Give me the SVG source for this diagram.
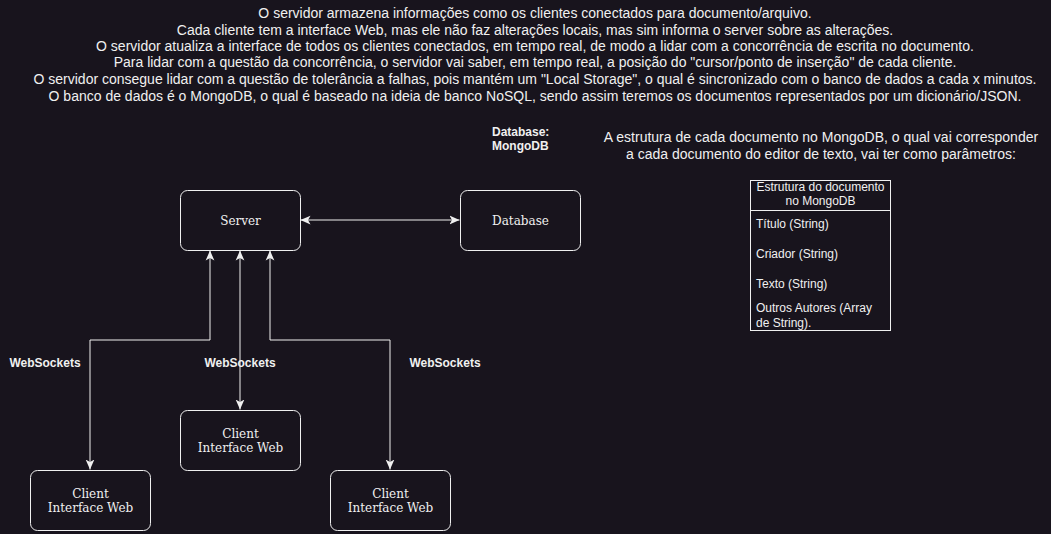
<svg xmlns="http://www.w3.org/2000/svg" width="1051" height="534" viewBox="0 0 1051 534">
<style>
.bg{fill:#18141d}
.node{fill:#18141d;stroke:#f0f0f0;stroke-width:1}
.nt{font-family:"DejaVu Serif",serif;font-size:12px;fill:#f0f0f0;text-anchor:middle}
.txt{font-family:"Liberation Sans",Arial,sans-serif;font-size:14px;fill:#f0f0f0;text-anchor:middle}
.lbl{font-family:"Liberation Sans",Arial,sans-serif;font-size:12px;font-weight:bold;fill:#f0f0f0}
.tb{font-family:"Liberation Sans",Arial,sans-serif;font-size:12px;fill:#f0f0f0}
.edge{fill:none;stroke:#f0f0f0;stroke-width:1;marker-start:url(#arr);marker-end:url(#arr)}
</style>
<defs>
<marker id="arr" markerUnits="userSpaceOnUse" markerWidth="10" markerHeight="10" viewBox="0 0 8 7" refX="8" refY="3.5" orient="auto-start-reverse">
<path d="M0,0 L8,3.5 L0,7 L2,3.5 z" fill="#f0f0f0"/>
</marker>
</defs>
<rect class="bg" x="0" y="0" width="1051" height="534"/>

<g id="description">
<text class="txt" x="535" y="18">O servidor armazena informações como os clientes conectados para documento/arquivo.</text>
<text class="txt" x="535" y="35">Cada cliente tem a interface Web, mas ele não faz alterações locais, mas sim informa o server sobre as alterações.</text>
<text class="txt" x="535" y="51">O servidor atualiza a interface de todos os clientes conectados, em tempo real, de modo a lidar com a concorrência de escrita no documento.</text>
<text class="txt" x="535" y="67">Para lidar com a questão da concorrência, o servidor vai saber, em tempo real, a posição do "cursor/ponto de inserção" de cada cliente.</text>
<text class="txt" x="535" y="84">O servidor consegue lidar com a questão de tolerância a falhas, pois mantém um "Local Storage", o qual é sincronizado com o banco de dados a cada x minutos.</text>
<text class="txt" x="535" y="101">O banco de dados é o MongoDB, o qual é baseado na ideia de banco NoSQL, sendo assim teremos os documentos representados por um dicionário/JSON.</text>
</g>

<g id="db-label">
<text class="lbl" x="492" y="136">Database:</text>
<text class="lbl" x="492" y="150">MongoDB</text>
</g>

<g id="structure-text">
<text class="txt" x="821" y="142">A estrutura de cada documento no MongoDB, o qual vai corresponder</text>
<text class="txt" x="821" y="159">a cada documento do editor de texto, vai ter como parâmetros:</text>
</g>

<g id="connectors">
<path class="edge" d="M300.5,220 L459.5,220"/>
<path class="edge" d="M210,250.5 L210,340 L90,340 L90,469.5"/>
<path class="edge" d="M240,250.5 L240,409.5"/>
<path class="edge" d="M270,250.5 L270,340 L390,340 L390,469.5"/>
<text class="lbl" x="45" y="367" text-anchor="middle">WebSockets</text>
<text class="lbl" x="240" y="367" text-anchor="middle">WebSockets</text>
<text class="lbl" x="445" y="367" text-anchor="middle">WebSockets</text>
</g>

<g id="server">
<rect class="node" x="180.5" y="190.5" width="120" height="60" rx="7"/>
<text class="nt" x="240.5" y="224.5">Server</text>
</g>
<g id="database">
<rect class="node" x="460.5" y="190.5" width="120" height="60" rx="7"/>
<text class="nt" x="520.5" y="224.5">Database</text>
</g>
<g id="client-left">
<rect class="node" x="30.5" y="470.5" width="120" height="60" rx="7"/>
<text class="nt" x="90.5" y="497.5">Client</text>
<text class="nt" x="90.5" y="511.5">Interface Web</text>
</g>
<g id="client-middle">
<rect class="node" x="180.5" y="410.5" width="120" height="60" rx="7"/>
<text class="nt" x="240.5" y="437.5">Client</text>
<text class="nt" x="240.5" y="451.5">Interface Web</text>
</g>
<g id="client-right">
<rect class="node" x="330.5" y="470.5" width="120" height="60" rx="7"/>
<text class="nt" x="390.5" y="497.5">Client</text>
<text class="nt" x="390.5" y="511.5">Interface Web</text>
</g>

<g id="doc-structure">
<rect x="750.5" y="180.5" width="140" height="150" fill="#18141d" stroke="#f0f0f0" stroke-width="1"/>
<line x1="750.5" y1="210.5" x2="890.5" y2="210.5" stroke="#f0f0f0" stroke-width="1"/>
<text class="tb" x="820.5" y="191" text-anchor="middle">Estrutura do documento</text>
<text class="tb" x="820.5" y="205" text-anchor="middle">no MongoDB</text>
<text class="tb" x="756" y="228">Título (String)</text>
<text class="tb" x="756" y="258">Criador (String)</text>
<text class="tb" x="756" y="288">Texto (String)</text>
<text class="tb" x="756" y="312">Outros Autores (Array</text>
<text class="tb" x="756" y="327">de String).</text>
</g>
</svg>
